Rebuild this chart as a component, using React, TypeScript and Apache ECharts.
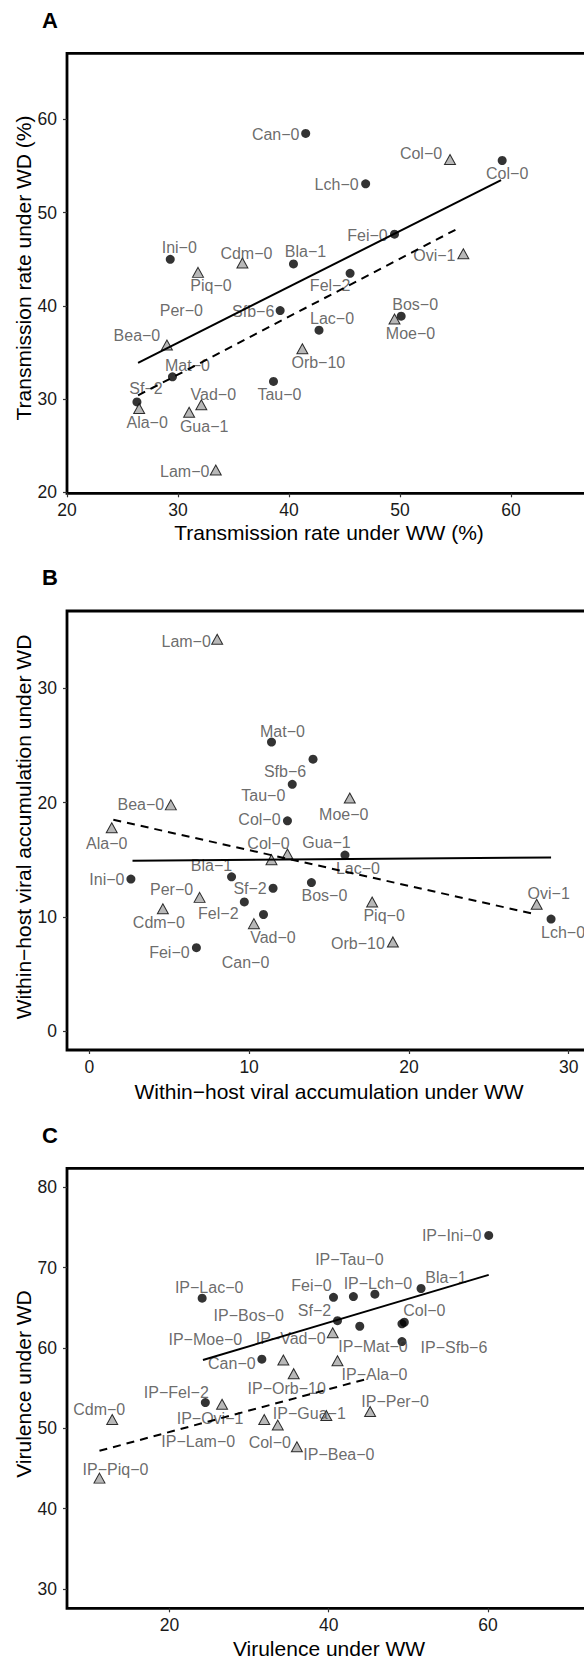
import React, { useEffect, useRef } from "react";
import * as echarts from "echarts";

type Pt = [string, number, number];
type Off = Record<string, [number, number]>;

// ---------- Panel A : transmission rate (%) ----------
const aTicks = [20, 30, 40, 50, 60];
const aCircles: Pt[] = [
  ["Can−0", 41.5, 58.5], ["Col−0", 59.2, 55.6], ["Lch−0", 46.9, 53.1], ["Fei−0", 49.5, 47.7],
  ["Ini−0", 29.3, 45.0], ["Bla−1", 40.4, 44.5], ["Fel−2", 45.5, 43.5], ["Sfb−6", 39.2, 39.5],
  ["Lac−0", 42.7, 37.4], ["Bos−0", 50.1, 38.9], ["Mat−0", 29.5, 32.4], ["Tau−0", 38.6, 31.9],
  ["Sf−2", 26.3, 29.7],
];
const aTriangles: Pt[] = [
  ["Col−0", 54.5, 55.7], ["Ovi−1", 55.7, 45.6], ["Cdm−0", 35.8, 44.6], ["Piq−0", 31.8, 43.6],
  ["Bea−0", 29.0, 35.8], ["Orb−10", 41.2, 35.4], ["Moe−0", 49.5, 38.6], ["Ala−0", 26.5, 29.0],
  ["Gua−1", 31.0, 28.6], ["Vad−0", 32.1, 29.4], ["Lam−0", 33.4, 22.4],
];
const aLabelOnly: Pt[] = [["Per−0", 30.3, 39.5]];
const aFitSolid = [[26.4, 33.9], [59.1, 53.5]];
const aFitDashed = [[26.4, 30.4], [55.2, 48.3]];

// ---------- Panel B : within-host viral accumulation ----------
const bTicks = [0, 10, 20, 30];
const bCircles: Pt[] = [
  ["Mat−0", 11.4, 25.3], ["Sfb−6", 14.0, 23.8], ["Tau−0", 12.7, 21.6], ["Col−0", 12.4, 18.4],
  ["Lac−0", 16.0, 15.4], ["Ini−0", 2.6, 13.3], ["Bla−1", 8.9, 13.5], ["Sf−2", 11.5, 12.5],
  ["Bos−0", 13.9, 13.0], ["Fel−2", 9.7, 11.3], ["Can−0", 10.9, 10.2], ["Lch−0", 28.9, 9.8],
  ["Fei−0", 6.7, 7.3],
];
const bTriangles: Pt[] = [
  ["Lam−0", 8.0, 34.3], ["Moe−0", 16.3, 20.4], ["Bea−0", 5.1, 19.8], ["Ala−0", 1.4, 17.8],
  ["Gua−1", 12.4, 15.5], ["Col−0", 11.4, 15.0], ["Per−0", 6.9, 11.7], ["Cdm−0", 4.6, 10.7],
  ["Piq−0", 17.7, 11.3], ["Ovi−1", 28.0, 11.1], ["Vad−0", 10.3, 9.4], ["Orb−10", 19.0, 7.8],
];
const bFitSolid = [[2.7, 14.9], [28.9, 15.2]];
const bFitDashed = [[1.5, 18.5], [28.0, 10.2]];

// ---------- Panel C : virulence ----------
const cXTicks = [20, 40, 60];
const cYTicks = [30, 40, 50, 60, 70, 80];
const cCircles: Pt[] = [
  ["IP−Ini−0", 60.1, 74.0], ["Bla−1", 51.6, 67.4], ["IP−Lac−0", 24.1, 66.2], ["Fei−0", 40.6, 66.3],
  ["IP−Tau−0", 43.1, 66.4], ["IP−Lch−0", 45.8, 66.7], ["Sf−2", 41.1, 63.4], ["IP−Bos−0", 43.9, 62.7],
  ["Col−0", 49.5, 63.2], ["IP−Sfb−6", 49.2, 63.0], ["IP−Mat−0", 49.2, 60.8], ["Can−0", 31.6, 58.6],
  ["IP−Fel−2", 24.5, 53.2],
];
const cTriangles: Pt[] = [
  ["IP−Vad−0", 40.5, 61.9], ["IP−Moe−0", 34.3, 58.5], ["IP−Ala−0", 41.1, 58.4], ["IP−Orb−10", 35.6, 56.8],
  ["IP−Ovi−1", 26.6, 53.0], ["Cdm−0", 12.8, 51.1], ["IP−Lam−0", 31.9, 51.1], ["Col−0", 33.6, 50.4],
  ["IP−Gua−1", 39.7, 51.6], ["IP−Per−0", 45.2, 52.1], ["IP−Bea−0", 36.0, 47.7], ["IP−Piq−0", 11.2, 43.8],
];
const cFitSolid = [[24.2, 58.5], [60.1, 69.1]];
const cFitDashed = [[11.2, 47.2], [45.0, 56.2]];

// ---------- label placement (pixel offsets from the point) ----------
const aCircleOff: Off = {
  "Can−0": [-30, 1], "Col−0": [5, 13], "Lch−0": [-29, 1], "Fei−0": [-27, 1], "Ini−0": [9, -12],
  "Bla−1": [12, -12], "Fel−2": [-20, 12], "Sfb−6": [-27, 1], "Lac−0": [13, -12], "Bos−0": [14, -12],
  "Mat−0": [15, -11], "Tau−0": [6, 13], "Sf−2": [9, -13],
};
const aTriOff: Off = {
  "Col−0": [-29, -6], "Ovi−1": [-29, 2], "Cdm−0": [4, -10], "Piq−0": [13, 13], "Bea−0": [-30, -10],
  "Orb−10": [16, 14], "Moe−0": [16, 15], "Ala−0": [8, 14], "Gua−1": [15, 14], "Vad−0": [12, -10],
  "Lam−0": [-31, 2],
};
const bCircleOff: Off = {
  "Mat−0": [11, -11], "Sfb−6": [-28, 12], "Tau−0": [-29, 11], "Col−0": [-28, -1], "Lac−0": [13, 13],
  "Ini−0": [-24, 0], "Bla−1": [-20, -11], "Sf−2": [-23, 0], "Bos−0": [13, 13], "Fel−2": [-26, 12],
  "Can−0": [-18, 48], "Lch−0": [12, 13], "Fei−0": [-27, 5],
};
const bTriOff: Off = {
  "Lam−0": [-31, 2], "Moe−0": [-6, 16], "Bea−0": [-30, 0], "Ala−0": [-5, 16], "Gua−1": [39, -11],
  "Col−0": [-3, -16], "Per−0": [-28, -8], "Cdm−0": [-4, 14], "Piq−0": [12, 14], "Ovi−1": [12, -11],
  "Vad−0": [19, 14], "Orb−10": [-35, 2],
};
const cCircleOff: Off = {
  "IP−Ini−0": [-37, 0], "Bla−1": [25, -11], "IP−Lac−0": [7, -11], "Fei−0": [-22, -12],
  "IP−Tau−0": [-4, -37], "IP−Lch−0": [3, -11], "Sf−2": [-23, -10], "IP−Bos−0": [-111, -11],
  "Col−0": [20, -12], "IP−Sfb−6": [52, 24], "IP−Mat−0": [-29, 5], "Can−0": [-30, 4],
  "IP−Fel−2": [-29, -10],
};
const cTriOff: Off = {
  "IP−Vad−0": [-42, 6], "IP−Moe−0": [-78, -21], "IP−Ala−0": [37, 14], "IP−Orb−10": [-7, 15],
  "IP−Ovi−1": [-12, 14], "Cdm−0": [-13, -10], "IP−Lam−0": [-66, 22], "Col−0": [-8, 17],
  "IP−Gua−1": [-17, -2], "IP−Per−0": [25, -10], "IP−Bea−0": [42, 8], "IP−Piq−0": [16, -9],
};

const FONT = "'Liberation Sans', Arial, Helvetica, sans-serif";

function pointSeries(pts: Pt[], off: Off, idx: number, kind: "circle" | "tri" | "none") {
  const isTri = kind === "tri";
  return {
    type: "scatter",
    xAxisIndex: idx,
    yAxisIndex: idx,
    symbol: isTri ? "triangle" : "circle",
    symbolSize: kind === "none" ? 0 : isTri ? [11, 10] : 9,
    itemStyle: isTri
      ? { color: "#a6a6a6", borderColor: "#000", borderWidth: 1 }
      : { color: "#000" },
    z: 3,
    label: {
      show: true,
      position: "inside",
      formatter: "{b}",
      color: "#454545",
      fontSize: 16,
      fontFamily: FONT,
    },
    emphasis: { disabled: true },
    data: pts.map(([n, x, y]) => ({
      name: n,
      value: [x, y],
      label: { offset: off[n] ?? [0, 0] },
    })),
  };
}

function fitSeries(pts: number[][], idx: number, dashed: boolean) {
  return {
    type: "line",
    xAxisIndex: idx,
    yAxisIndex: idx,
    symbol: "none",
    z: 4,
    lineStyle: { color: "#000", width: 2, type: dashed ? [8, 6] : "solid" },
    data: pts,
  };
}

function axis(idx: number, min: number, max: number, ticks: number[], margin: number) {
  return {
    type: "value",
    gridIndex: idx,
    min,
    max,
    axisLine: { show: false, onZero: false },
    splitLine: { show: false },
    axisTick: { show: true, length: 4, customValues: ticks, lineStyle: { color: "#333", width: 1.2 } },
    axisLabel: { customValues: ticks, fontSize: 17.5, color: "#1a1a1a", margin, fontFamily: FONT },
  };
}

function title(text: string, x: number, y: number, vertical = false) {
  return {
    type: "text",
    x,
    y,
    rotation: vertical ? Math.PI / 2 : 0,
    style: { text, fontSize: 21, fill: "#000", fontFamily: FONT, align: "center", verticalAlign: "middle" },
  };
}
function letter(text: string, y: number) {
  return {
    type: "text",
    x: 42,
    y,
    style: { text, fontSize: 22, fontWeight: "bold", fill: "#000", fontFamily: FONT, align: "left", verticalAlign: "middle" },
  };
}

export default function App() {
  const ref = useRef<HTMLDivElement>(null);
  useEffect(() => {
    if (!ref.current) return;
    const chart = echarts.init(ref.current, null, { renderer: "svg" });
    const gridBase = { left: 67, width: 524, show: true, borderColor: "#000", borderWidth: 2.8, backgroundColor: "transparent" };
    chart.setOption({
      animation: false,
      backgroundColor: "#fff",
      grid: [
        { ...gridBase, top: 53.3, height: 440 },
        { ...gridBase, top: 611, height: 439 },
        { ...gridBase, top: 1168.3, height: 440 },
      ],
      xAxis: [
        axis(0, 20, 67.2, aTicks, 8),
        axis(1, -1.4, 31.4, bTicks, 8),
        axis(2, 7.12, 72.95, cXTicks, 8),
      ],
      yAxis: [
        axis(0, 19.9, 67.1, aTicks, 10),
        axis(1, -1.66, 36.77, bTicks, 10),
        axis(2, 27.6, 82.36, cYTicks, 10),
      ],
      series: [
        pointSeries(aCircles, aCircleOff, 0, "circle"),
        pointSeries(aTriangles, aTriOff, 0, "tri"),
        pointSeries(aLabelOnly, {}, 0, "none"),
        fitSeries(aFitSolid, 0, false),
        fitSeries(aFitDashed, 0, true),
        pointSeries(bCircles, bCircleOff, 1, "circle"),
        pointSeries(bTriangles, bTriOff, 1, "tri"),
        fitSeries(bFitSolid, 1, false),
        fitSeries(bFitDashed, 1, true),
        pointSeries(cCircles, cCircleOff, 2, "circle"),
        pointSeries(cTriangles, cTriOff, 2, "tri"),
        fitSeries(cFitSolid, 2, false),
        fitSeries(cFitDashed, 2, true),
      ],
      graphic: [
        letter("A", 20),
        letter("B", 577),
        letter("C", 1135),
        title("Transmission rate under WW (%)", 329, 532),
        title("Transmission rate under WD (%)", 23, 268, true),
        title("Within−host viral accumulation under WW", 329, 1091),
        title("Within−host viral accumulation under WD", 23, 827, true),
        title("Virulence under WW", 329, 1648),
        title("Virulence under WD", 23, 1384, true),
      ],
    });
    return () => chart.dispose();
  }, []);
  return (
    <div style={{ position: "absolute", left: 0, top: 0, width: 584, height: 1662, overflow: "hidden", background: "#fff" }}>
      <div ref={ref} style={{ width: 640, height: 1662 }} />
    </div>
  );
}
